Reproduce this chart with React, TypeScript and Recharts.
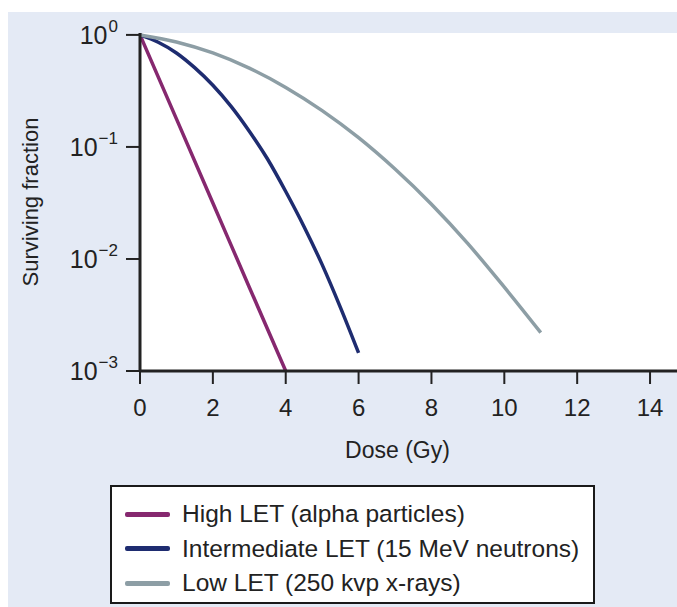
import { CartesianGrid, Label, Legend, Line, LineChart, XAxis, YAxis } from "recharts";

// surviving fraction, per dose (Gy)
const highDose = [0, 1, 2, 3, 4];
const highSurv = [1, 0.178, 0.0316, 0.0056, 0.001];

const midDose = [0, 0.5, 1, 1.5, 2, 2.5, 3, 3.5, 4, 4.5, 5, 5.5, 6];
const midSurv = [1, 0.86, 0.69, 0.51, 0.355, 0.23, 0.138, 0.078, 0.04, 0.0195, 0.0089, 0.0037, 0.00145];

const lowDose = [0, 1, 2, 3, 4, 5, 6, 7, 8, 9, 10, 11];
const lowSurv = [1, 0.865, 0.69, 0.505, 0.34, 0.211, 0.121, 0.0635, 0.0308, 0.0137, 0.0056, 0.0022];

const xTicks = [0, 2, 4, 6, 8, 10, 12, 14];
const yTicks = [1, 0.1, 0.01, 0.001];

const seriesNames = [
  "High LET (alpha particles)",
  "Intermediate LET (15 MeV neutrons)",
  "Low LET (250 kvp x-rays)",
];

const toRows = (dose: number[], surv: number[]) =>
  dose.map((d, i) => ({ dose: d, surv: surv[i] }));

const FONT = '"Liberation Sans", Arial, Helvetica, sans-serif';
const INK = "#222";

function PowerTick(props: any) {
  const { x, y, payload } = props;
  const exp = Math.round(Math.log10(payload.value));
  return (
    <text x={x} y={y + 9} textAnchor="end" fontFamily={FONT} fill={INK}>
      <tspan fontSize={25}>10</tspan>
      <tspan fontSize={17} dy={-12} dx={1}>
        {exp === 0 ? "0" : `\u2212${Math.abs(exp)}`}
      </tspan>
    </text>
  );
}

function LegendBox({ payload }: any) {
  return (
    <div
      style={{
        boxSizing: "border-box",
        width: 485,
        height: 119,
        border: "2px solid #1a1a1a",
        background: "#fff",
        padding: "10px 0 0 13px",
        fontFamily: FONT,
        fontSize: 24.5,
        color: INK,
      }}
    >
      {(payload || []).map((p: any) => (
        <div key={p.value} style={{ display: "flex", alignItems: "center", height: 34.5 }}>
          <span
            style={{ width: 45, height: 5, background: p.color, marginRight: 12, borderRadius: 2 }}
          />
          <span>{p.value}</span>
        </div>
      ))}
    </div>
  );
}

export default function App() {
  return (
    <div
      style={{
        position: "fixed",
        left: 0,
        top: 0,
        width: 677,
        height: 607,
        overflow: "hidden",
        background: "#fff",
      }}
    >
      <div
        style={{ position: "absolute", left: 8, top: 12, right: 0, bottom: 0, background: "#e4eaf5" }}
      />
      <LineChart
        width={677}
        height={607}
        margin={{ top: 33, right: 0, bottom: 176, left: 0 }}
        style={{ position: "absolute", left: 0, top: 0 }}
      >
        <CartesianGrid fill="#fff" stroke="none" horizontal={false} vertical={false} />
        <XAxis
          type="number"
          dataKey="dose"
          domain={[0, 14.74]}
          ticks={xTicks}
          allowDataOverflow
          height={60}
          tickSize={13}
          tickMargin={15}
          axisLine={{ stroke: INK, strokeWidth: 3 }}
          tickLine={{ stroke: INK, strokeWidth: 2 }}
          tick={{ fontSize: 24, fill: INK, fontFamily: FONT }}
        >
          <Label
            value="Dose (Gy)"
            position="insideTop"
            offset={71}
            dx={-11}
            style={{ fontSize: 23, fill: INK, fontFamily: FONT }}
          />
        </XAxis>
        <YAxis
          type="number"
          scale="log"
          domain={[0.001, 1.04]}
          ticks={yTicks}
          allowDataOverflow
          width={140}
          tickSize={14}
          tickMargin={8}
          axisLine={{ stroke: INK, strokeWidth: 3 }}
          tickLine={{ stroke: INK, strokeWidth: 2 }}
          tick={<PowerTick />}
        >
          <Label
            value="Surviving fraction"
            angle={-90}
            position="insideLeft"
            offset={30}
            style={{ fontSize: 22, fill: INK, fontFamily: FONT, textAnchor: "middle" }}
          />
        </YAxis>
        <Legend
          layout="vertical"
          align="center"
          verticalAlign="middle"
          wrapperStyle={{ left: 110, top: 485, width: 485 }}
          content={<LegendBox />}
        />
        <Line
          data={toRows(highDose, highSurv)}
          dataKey="surv"
          name={seriesNames[0]}
          type="monotone"
          stroke="#86286f"
          strokeWidth={3.5}
          dot={false}
          isAnimationActive={false}
        />
        <Line
          data={toRows(midDose, midSurv)}
          dataKey="surv"
          name={seriesNames[1]}
          type="monotone"
          stroke="#1e2c70"
          strokeWidth={3.5}
          dot={false}
          isAnimationActive={false}
        />
        <Line
          data={toRows(lowDose, lowSurv)}
          dataKey="surv"
          name={seriesNames[2]}
          type="monotone"
          stroke="#8d9ea5"
          strokeWidth={3.5}
          dot={false}
          isAnimationActive={false}
        />
      </LineChart>
    </div>
  );
}
